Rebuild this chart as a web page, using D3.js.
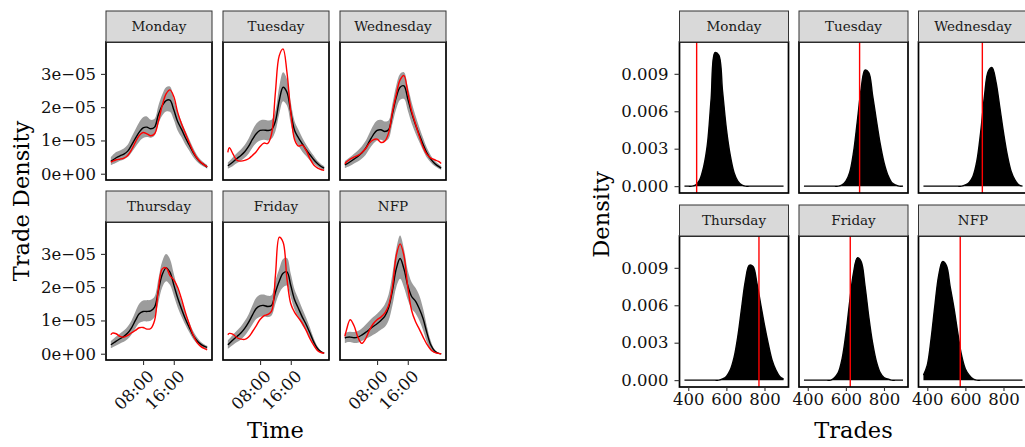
<!DOCTYPE html>
<html><head><meta charset="utf-8">
<script src="https://cdn.jsdelivr.net/npm/d3@7"></script>
<style>html,body{margin:0;padding:0;background:#fff}svg{display:block}</style>
</head><body>
<svg id="chart" width="1025" height="447"></svg>
<script>
// ---------- DATA ----------
const days = ["Monday","Tuesday","Wednesday","Thursday","Friday","NFP"];

// Left chart: intraday trade density (values in units of 1e-5)
const densityUnitLabel = "e-05";
const hours = [-0.4,0,1,2,3,4,5,6,7,8,9,10,11,12,13,14,15,16,17,18,19,20,21,22,23,24,24.7];
const timeTickValues = [8,16];
const timeTickLabels = ["08:00","16:00"];
const timeDensityRange = [0, 3.77];
const timeDensityTicks = [0,1,2,3];
const timeDensityTickLabels = ["0e+00","1e\u221205","2e\u221205","3e\u221205"];

const meanDensity = [
  [0.37,0.40,0.48,0.54,0.59,0.68,0.86,1.06,1.25,1.38,1.40,1.35,1.40,1.78,2.05,2.20,2.21,1.92,1.57,1.34,1.09,0.87,0.65,0.47,0.34,0.26,0.20],
  [0.24,0.27,0.36,0.46,0.55,0.66,0.82,1.03,1.20,1.30,1.31,1.30,1.33,1.58,2.20,2.60,2.45,1.85,1.30,1.08,0.90,0.72,0.57,0.42,0.30,0.21,0.17],
  [0.27,0.29,0.36,0.44,0.52,0.62,0.76,0.97,1.17,1.30,1.32,1.27,1.32,1.80,2.30,2.60,2.64,2.25,1.83,1.48,1.17,0.88,0.62,0.44,0.31,0.22,0.17],
  [0.27,0.30,0.38,0.45,0.52,0.62,0.78,1.00,1.20,1.27,1.27,1.29,1.40,1.90,2.38,2.58,2.45,2.07,1.68,1.35,1.05,0.80,0.56,0.40,0.29,0.22,0.19],
  [0.27,0.31,0.42,0.52,0.62,0.76,0.94,1.16,1.36,1.44,1.45,1.42,1.45,1.85,2.18,2.42,2.46,2.05,1.62,1.36,1.10,0.88,0.62,0.35,0.15,0.05,0.02],
  [0.47,0.49,0.50,0.48,0.50,0.56,0.64,0.73,0.82,0.90,1.00,1.12,1.38,1.90,2.55,2.86,2.55,2.05,1.72,1.58,1.35,1.05,0.62,0.26,0.08,0.01,0.00]
];
const observedDensity = [
  [0.35,0.37,0.42,0.44,0.47,0.55,0.72,0.95,1.15,1.24,1.20,1.14,1.20,1.58,2.05,2.40,2.52,2.32,1.85,1.50,1.22,0.94,0.68,0.48,0.35,0.26,0.21],
  [0.64,0.78,0.58,0.40,0.38,0.40,0.45,0.55,0.66,0.82,0.92,0.91,1.20,2.45,3.55,3.75,3.05,1.85,1.02,0.83,0.86,0.70,0.45,0.26,0.17,0.12,0.10],
  [0.30,0.35,0.44,0.50,0.55,0.63,0.75,0.92,1.02,1.04,0.94,0.98,1.22,1.85,2.38,2.82,2.95,2.45,1.88,1.50,1.13,0.80,0.58,0.47,0.42,0.37,0.31],
  [0.57,0.62,0.60,0.52,0.50,0.55,0.63,0.70,0.78,0.79,0.74,0.76,1.00,1.95,2.55,2.58,2.35,2.22,2.00,1.65,1.25,0.90,0.58,0.35,0.22,0.15,0.12],
  [0.57,0.61,0.58,0.48,0.44,0.43,0.50,0.66,0.84,1.03,1.14,1.18,1.28,2.35,3.50,3.35,2.25,1.50,1.24,1.08,0.92,0.70,0.45,0.25,0.09,0.03,0.02],
  [0.52,0.70,1.02,0.84,0.50,0.31,0.45,0.70,0.90,1.02,1.10,1.22,1.45,2.00,2.95,3.30,2.95,2.00,1.30,0.97,0.74,0.50,0.28,0.12,0.04,0.01,0.00]
];
const bandHigh = [
  [0.50,0.55,0.65,0.70,0.76,0.87,1.10,1.33,1.55,1.70,1.72,1.62,1.65,2.05,2.38,2.60,2.62,2.25,1.85,1.58,1.30,1.04,0.79,0.57,0.42,0.32,0.26],
  [0.34,0.38,0.50,0.62,0.73,0.86,1.05,1.30,1.50,1.60,1.62,1.60,1.62,1.90,2.62,3.05,2.85,2.15,1.58,1.32,1.08,0.88,0.70,0.54,0.38,0.28,0.23],
  [0.38,0.41,0.50,0.60,0.70,0.82,0.98,1.22,1.45,1.60,1.62,1.57,1.60,2.10,2.65,3.00,3.05,2.62,2.15,1.75,1.40,1.07,0.77,0.55,0.40,0.29,0.23],
  [0.38,0.42,0.52,0.61,0.70,0.82,1.00,1.26,1.50,1.60,1.61,1.62,1.72,2.25,2.78,3.00,2.85,2.40,1.95,1.58,1.25,0.96,0.69,0.50,0.36,0.28,0.24],
  [0.40,0.45,0.58,0.70,0.82,0.98,1.18,1.45,1.68,1.77,1.78,1.74,1.76,2.20,2.55,2.85,2.88,2.40,1.92,1.64,1.35,1.08,0.78,0.46,0.22,0.08,0.04],
  [0.62,0.64,0.66,0.65,0.68,0.76,0.87,0.99,1.10,1.20,1.32,1.48,1.78,2.40,3.15,3.55,3.15,2.50,2.15,1.98,1.75,1.35,0.82,0.38,0.13,0.04,0.02]
];
const bandLow = [
  [0.26,0.28,0.33,0.39,0.43,0.50,0.64,0.80,0.96,1.07,1.10,1.08,1.15,1.50,1.75,1.87,1.86,1.62,1.30,1.10,0.88,0.70,0.51,0.37,0.27,0.20,0.15],
  [0.15,0.17,0.24,0.32,0.39,0.48,0.60,0.78,0.92,1.00,1.02,1.00,1.05,1.28,1.80,2.18,2.05,1.50,1.05,0.84,0.66,0.53,0.40,0.30,0.21,0.14,0.11],
  [0.17,0.19,0.24,0.31,0.37,0.45,0.56,0.74,0.90,1.00,1.02,0.98,1.05,1.50,1.95,2.22,2.25,1.90,1.52,1.22,0.95,0.70,0.48,0.34,0.23,0.16,0.12],
  [0.17,0.19,0.25,0.31,0.36,0.44,0.58,0.76,0.92,0.97,0.97,0.99,1.10,1.55,2.00,2.18,2.07,1.75,1.40,1.12,0.87,0.65,0.45,0.31,0.22,0.16,0.14],
  [0.15,0.18,0.27,0.35,0.43,0.54,0.70,0.88,1.04,1.11,1.12,1.10,1.15,1.50,1.82,2.00,2.05,1.70,1.32,1.08,0.85,0.68,0.46,0.24,0.08,0.02,0.00],
  [0.32,0.34,0.35,0.32,0.33,0.38,0.44,0.50,0.57,0.64,0.72,0.80,1.00,1.45,2.00,2.25,2.00,1.62,1.35,1.22,1.00,0.70,0.34,0.10,0.02,0.00,0.00]
];

// Right chart: simulated distribution of number of trades
const trades = [380,400,420,440,460,480,500,520,540,560,580,600,620,640,660,680,700,720,740,760,780,800,820,840,860,880,900];
const tradeTicks = [400,600,800];
const tradeDensityRange = [0, 0.011];
const tradeDensityTicks = [0,0.003,0.006,0.009];
const tradeDensityTickLabels = ["0.000","0.003","0.006","0.009"];
const tradeDensity = [
  [0,0,0,0.0001,0.0005,0.0015,0.0033,0.0070,0.0107,0.0105,0.0076,0.0046,0.0025,0.0011,0.0004,0.0001,0,0,0,0,0,0,0,0,0,0,0],
  [0,0,0,0,0,0,0,0,0,0,0.0001,0.0004,0.0011,0.0027,0.0052,0.0078,0.0093,0.0091,0.0073,0.0053,0.0034,0.0019,0.0009,0.0003,0.0001,0,0],
  [0,0,0,0,0,0,0,0,0,0,0,0.0001,0.0003,0.0008,0.0020,0.0043,0.0072,0.0092,0.0095,0.0084,0.0064,0.0043,0.0025,0.0012,0.0005,0.0001,0],
  [0,0,0,0,0,0,0,0,0,0,0.0001,0.0003,0.0008,0.0018,0.0035,0.0058,0.0080,0.0092,0.0091,0.0078,0.0061,0.0044,0.0029,0.0016,0.0008,0.0003,0.0001],
  [0,0,0,0,0,0,0,0,0.0002,0.0006,0.0017,0.0037,0.0063,0.0086,0.0098,0.0095,0.0076,0.0051,0.0030,0.0015,0.0006,0.0002,0.0001,0,0,0,0],
  [0.0004,0.0012,0.0033,0.0060,0.0084,0.0095,0.0092,0.0075,0.0058,0.0038,0.0020,0.0009,0.0004,0.0001,0,0,0,0,0,0,0,0,0,0,0,0,0]
];
const observedTrades = [444,672,689,771,623,573];

// ---------- DRAWING ----------
const FONT = "'DejaVu Serif', serif";
const svg = d3.select("#chart");

function expand(ext, f) { const d = ext[1]-ext[0]; return [ext[0]-d*f, ext[1]+d*f]; }
function facetPos(i, g) {
  const c = i % 3, r = Math.floor(i / 3);
  const x0 = g.left + c * (g.panelW + g.gapX);
  const sTop = g.top + r * (g.stripH + g.panelH + g.gapY);
  return {x0, x1: x0 + g.panelW, sTop, pTop: sTop + g.stripH, pBot: sTop + g.stripH + g.panelH, row: r, col: c};
}
function drawStrip(p, label, g) {
  svg.append("rect").attr("x", p.x0).attr("y", p.sTop).attr("width", g.panelW).attr("height", g.stripH)
    .attr("fill", "#d9d9d9").attr("stroke", "#333").attr("stroke-width", 1);
  svg.append("text").attr("x", (p.x0 + p.x1) / 2).attr("y", p.sTop + g.stripH / 2).attr("dy", "0.35em")
    .attr("text-anchor", "middle").attr("font-family", FONT).attr("font-size", "13.5px").attr("fill", "#1a1a1a").text(label);
}
function drawBorder(p, g) {
  svg.append("rect").attr("x", p.x0).attr("y", p.pTop).attr("width", g.panelW).attr("height", g.panelH)
    .attr("fill", "none").attr("stroke", "#000").attr("stroke-width", 1.7);
}
function styleAxis(ax) {
  ax.select(".domain").remove();
  ax.selectAll(".tick line").attr("stroke", "#333").attr("stroke-width", 1.1);
  ax.selectAll(".tick text").attr("font-family", FONT).attr("font-size", "16.5px").attr("fill", "#111");
}

// Left facet grid
const gL = {left: 106, top: 11, panelW: 106, panelH: 138, gapX: 11, gapY: 11, stripH: 31};
days.forEach((day, i) => {
  const p = facetPos(i, gL);
  const x = d3.scaleLinear().domain(expand(d3.extent(hours), 0.05)).range([p.x0, p.x1]);
  const y = d3.scaleLinear().domain(expand(timeDensityRange, 0.05)).range([p.pBot, p.pTop]);
  const pts = hours.map((h, k) => ({h, lo: bandLow[i][k], hi: bandHigh[i][k], m: meanDensity[i][k], o: observedDensity[i][k]}));
  svg.append("path").datum(pts)
    .attr("d", d3.area().x(d => x(d.h)).y0(d => y(d.lo)).y1(d => y(d.hi)).curve(d3.curveCatmullRom))
    .attr("fill", "#9c9c9c");
  svg.append("path").datum(pts)
    .attr("d", d3.line().x(d => x(d.h)).y(d => y(d.m)).curve(d3.curveCatmullRom))
    .attr("fill", "none").attr("stroke", "#000").attr("stroke-width", 1.4);
  svg.append("path").datum(pts)
    .attr("d", d3.line().x(d => x(d.h)).y(d => y(d.o)).curve(d3.curveCatmullRom))
    .attr("fill", "none").attr("stroke", "#ff0000").attr("stroke-width", 1.4);
  drawBorder(p, gL);
  drawStrip(p, day, gL);
  if (p.col === 0) {
    const ax = svg.append("g").attr("transform", `translate(${p.x0},0)`)
      .call(d3.axisLeft(y).tickValues(timeDensityTicks).tickFormat((d, j) => timeDensityTickLabels[j]).tickSize(5).tickPadding(5));
    styleAxis(ax);
  }
  if (p.row === 1) {
    const ax = svg.append("g").attr("transform", `translate(0,${p.pBot})`)
      .call(d3.axisBottom(x).tickValues(timeTickValues).tickFormat((d, j) => timeTickLabels[j]).tickSize(5));
    styleAxis(ax);
    ax.selectAll(".tick text").attr("y", 0).attr("dy", "0.71em").attr("dx", 0)
      .attr("transform", "translate(3,9) rotate(-45)").attr("text-anchor", "end");
  }
});

// Right facet grid
const gR = {left: 679.5, top: 11, panelW: 109, panelH: 151, gapX: 10.5, gapY: 12, stripH: 31};
days.forEach((day, i) => {
  const p = facetPos(i, gR);
  const x = d3.scaleLinear().domain(expand(d3.extent(trades), 0.05)).range([p.x0, p.x1]);
  const y = d3.scaleLinear().domain(expand(tradeDensityRange, 0.05)).range([p.pBot, p.pTop]);
  const pts = trades.map((t, k) => ({t, d: tradeDensity[i][k]}));
  svg.append("path").datum(pts)
    .attr("d", d3.area().x(d => x(d.t)).y0(y(0)).y1(d => y(d.d)).curve(d3.curveCatmullRom))
    .attr("fill", "#000");
  svg.append("path").datum(pts)
    .attr("d", d3.line().x(d => x(d.t)).y(d => y(d.d)).curve(d3.curveCatmullRom))
    .attr("fill", "none").attr("stroke", "#000").attr("stroke-width", 1.4);
  svg.append("line").attr("x1", x(observedTrades[i])).attr("x2", x(observedTrades[i]))
    .attr("y1", p.pTop).attr("y2", p.pBot).attr("stroke", "#ff0000").attr("stroke-width", 1.4);
  drawBorder(p, gR);
  drawStrip(p, day, gR);
  if (p.col === 0) {
    const ax = svg.append("g").attr("transform", `translate(${p.x0},0)`)
      .call(d3.axisLeft(y).tickValues(tradeDensityTicks).tickFormat((d, j) => tradeDensityTickLabels[j]).tickSize(5).tickPadding(6));
    styleAxis(ax);
  }
  if (p.row === 1) {
    const ax = svg.append("g").attr("transform", `translate(0,${p.pBot})`)
      .call(d3.axisBottom(x).tickValues(tradeTicks).tickFormat(d3.format("d")).tickSize(4).tickPadding(2));
    styleAxis(ax);
  }
});

// Axis titles
function title(txt, x, y, rot) {
  svg.append("text").attr("transform", `translate(${x},${y})` + (rot ? " rotate(-90)" : ""))
    .attr("text-anchor", "middle").attr("font-family", FONT).attr("font-size", "22.5px").attr("fill", "#000").text(txt);
}
title("Time", 275.5, 438, false);
title("Trades", 853.5, 438, false);
title("Trade Density", 29, 201, true);
title("Density", 609, 214.5, true);
</script>
</body></html>
